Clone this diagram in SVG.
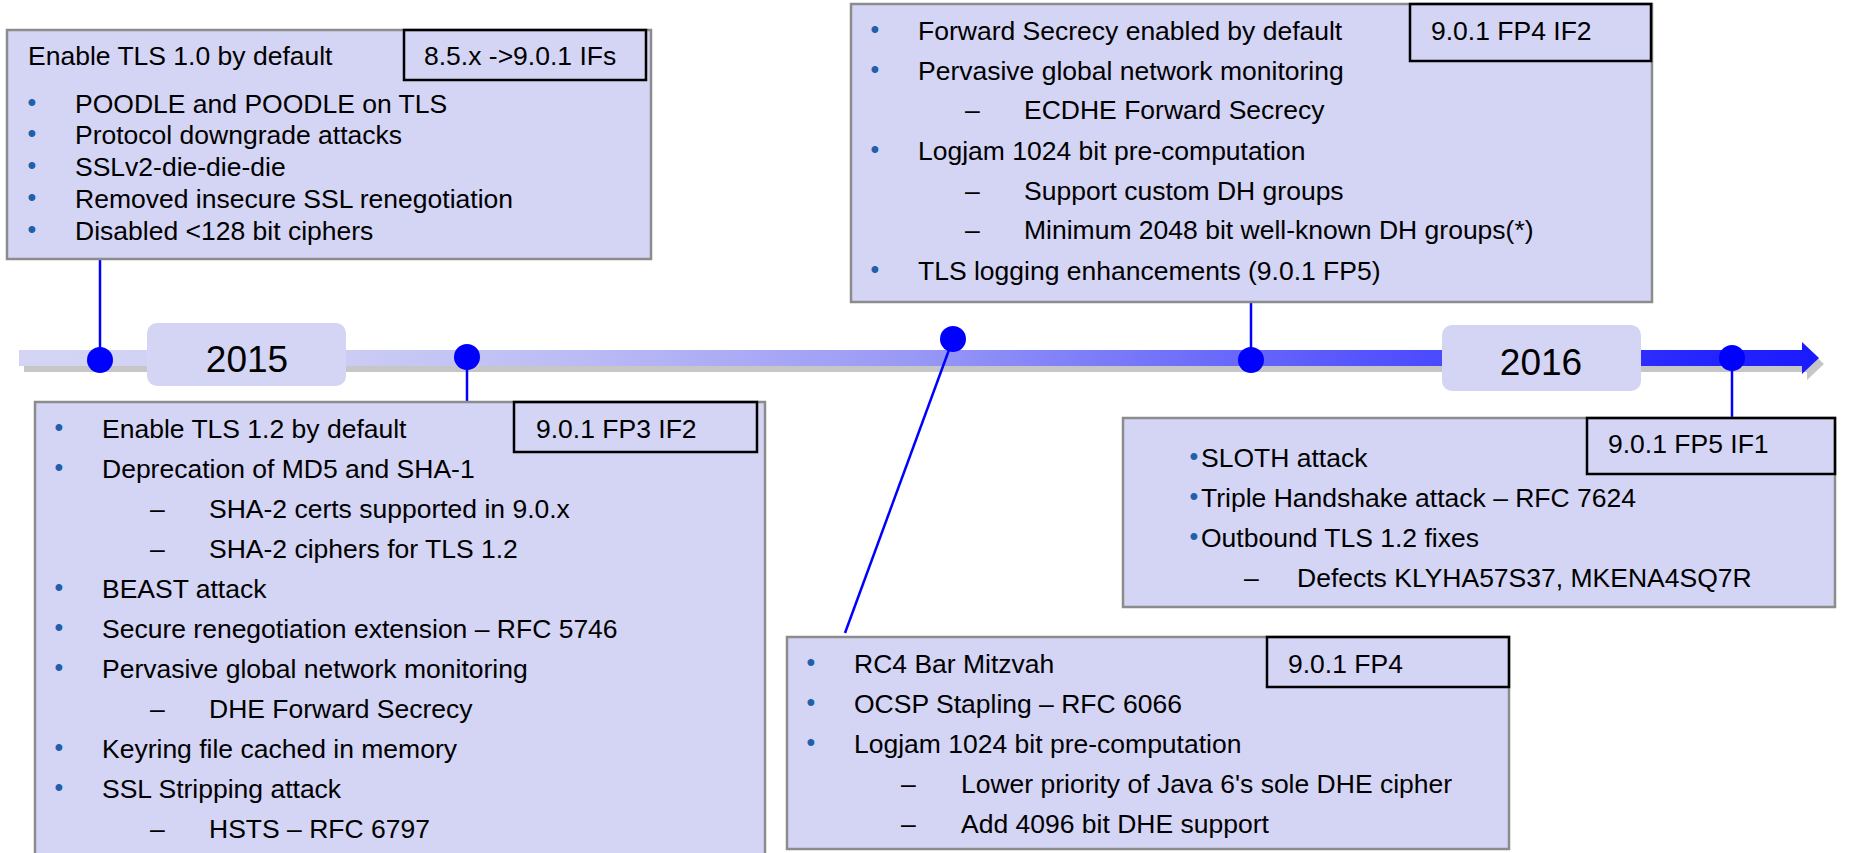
<svg xmlns="http://www.w3.org/2000/svg" width="1849" height="853" viewBox="0 0 1849 853">
<defs>
<linearGradient id="barGrad" gradientUnits="userSpaceOnUse" x1="19" y1="0" x2="1819" y2="0">
<stop offset="0" stop-color="#d4d4f4"/>
<stop offset="0.15" stop-color="#cfcff4"/>
<stop offset="0.3" stop-color="#bdbdf5"/>
<stop offset="0.49" stop-color="#9a9af6"/>
<stop offset="0.68" stop-color="#6666fb"/>
<stop offset="0.79" stop-color="#4a4aff"/>
<stop offset="0.93" stop-color="#2626ff"/>
<stop offset="1" stop-color="#1a1aff"/>
</linearGradient>
</defs>
<style>
text{font-family:"Liberation Sans",Arial,Helvetica,sans-serif;font-size:26.5px;fill:#000}
.box{fill:#d4d4f4;stroke:#8c8c8c;stroke-width:2.5}
.ver{fill:none;stroke:#000;stroke-width:2.5}
.year{fill:#d4d4f4;stroke:none}
.yt{font-size:37px;text-anchor:middle}
.b{fill:#2060a8;font-size:25px}
.conn{stroke:#0000ff;stroke-width:2.5;fill:none}
.dot{fill:#0000ff}
</style>
<rect width="1849" height="853" fill="#fff"/>

<g id="timeline">
<path d="M24,356 H1807 V348 L1824,364 L1807,380 V372 H24 Z" fill="#c6c6c6"/>
<path d="M19,350 H1802 V342 L1819,358 L1802,374 V366 H19 Z" fill="url(#barGrad)"/>
<g id="year2015"><rect class="year" x="147" y="323" width="199" height="63" rx="10"/><text class="yt" x="247" y="372">2015</text></g>
<g id="year2016"><rect class="year" x="1442" y="325" width="199" height="66" rx="10"/><text class="yt" x="1541" y="375">2016</text></g>
</g>

<g id="connectors">
<line class="conn" x1="100" y1="259" x2="100" y2="360"/>
<line class="conn" x1="467" y1="357" x2="467" y2="402"/>
<line class="conn" x1="953" y1="339" x2="845" y2="633"/>
<line class="conn" x1="1251" y1="302" x2="1251" y2="360"/>
<line class="conn" x1="1732" y1="358" x2="1732" y2="418"/>
<circle class="dot" cx="100" cy="360" r="13"/>
<circle class="dot" cx="467" cy="357" r="13"/>
<circle class="dot" cx="953" cy="339" r="13"/>
<circle class="dot" cx="1251" cy="360" r="13"/>
<circle class="dot" cx="1732" cy="358" r="13"/>
</g>

<g id="box1">
<rect class="box" x="7" y="30" width="644" height="229"/>
<rect class="ver" x="404" y="30" width="242" height="50"/>
<text x="424" y="65">8.5.x -&gt;9.0.1 IFs</text>
<text x="28" y="65">Enable TLS 1.0 by default</text>
<text class="b" x="27.5" y="111">•</text><text x="75" y="113">POODLE and POODLE on TLS</text>
<text class="b" x="27.5" y="142">•</text><text x="75" y="144">Protocol downgrade attacks</text>
<text class="b" x="27.5" y="174">•</text><text x="75" y="176">SSLv2-die-die-die</text>
<text class="b" x="27.5" y="206">•</text><text x="75" y="208">Removed insecure SSL renegotiation</text>
<text class="b" x="27.5" y="238">•</text><text x="75" y="240">Disabled &lt;128 bit ciphers</text>
</g>

<g id="box2">
<rect class="box" x="35" y="402" width="730" height="480"/>
<rect class="ver" x="514" y="402" width="243" height="50"/>
<text x="536" y="438">9.0.1 FP3 IF2</text>
<text class="b" x="54.5" y="436">•</text><text x="102" y="438">Enable TLS 1.2 by default</text>
<text class="b" x="54.5" y="476">•</text><text x="102" y="478">Deprecation of MD5 and SHA-1</text>
<text x="150" y="518">–</text><text x="209" y="518">SHA-2 certs supported in 9.0.x</text>
<text x="150" y="558">–</text><text x="209" y="558">SHA-2 ciphers for TLS 1.2</text>
<text class="b" x="54.5" y="596">•</text><text x="102" y="598">BEAST attack</text>
<text class="b" x="54.5" y="636">•</text><text x="102" y="638">Secure renegotiation extension – RFC 5746</text>
<text class="b" x="54.5" y="676">•</text><text x="102" y="678">Pervasive global network monitoring</text>
<text x="150" y="718">–</text><text x="209" y="718">DHE Forward Secrecy</text>
<text class="b" x="54.5" y="756">•</text><text x="102" y="758">Keyring file cached in memory</text>
<text class="b" x="54.5" y="796">•</text><text x="102" y="798">SSL Stripping attack</text>
<text x="150" y="838">–</text><text x="209" y="838">HSTS – RFC 6797</text>
</g>

<g id="box3">
<rect class="box" x="851" y="4" width="801" height="298"/>
<rect class="ver" x="1410" y="4" width="241" height="57"/>
<text x="1431" y="40">9.0.1 FP4 IF2</text>
<text class="b" x="870.5" y="38">•</text><text x="918" y="40">Forward Secrecy enabled by default</text>
<text class="b" x="870.5" y="78">•</text><text x="918" y="80">Pervasive global network monitoring</text>
<text x="965" y="119">–</text><text x="1024" y="119">ECDHE Forward Secrecy</text>
<text class="b" x="870.5" y="158">•</text><text x="918" y="160">Logjam 1024 bit pre-computation</text>
<text x="965" y="200">–</text><text x="1024" y="200">Support custom DH groups</text>
<text x="965" y="239">–</text><text x="1024" y="239">Minimum 2048 bit well-known DH groups(*)</text>
<text class="b" x="870.5" y="278">•</text><text x="918" y="280">TLS logging enhancements (9.0.1 FP5)</text>
</g>

<g id="box4">
<rect class="box" x="787" y="637" width="722" height="212"/>
<rect class="ver" x="1267" y="637" width="242" height="50"/>
<text x="1288" y="673">9.0.1 FP4</text>
<text class="b" x="806.5" y="671">•</text><text x="854" y="673">RC4 Bar Mitzvah</text>
<text class="b" x="806.5" y="711">•</text><text x="854" y="713">OCSP Stapling – RFC 6066</text>
<text class="b" x="806.5" y="751">•</text><text x="854" y="753">Logjam 1024 bit pre-computation</text>
<text x="901" y="793">–</text><text x="961" y="793">Lower priority of Java 6's sole DHE cipher</text>
<text x="901" y="833">–</text><text x="961" y="833">Add 4096 bit DHE support</text>
</g>

<g id="box5">
<rect class="box" x="1123" y="418" width="712" height="189"/>
<rect class="ver" x="1587" y="418" width="248" height="56"/>
<text x="1608" y="453">9.0.1 FP5 IF1</text>
<text class="b" x="1189.5" y="465">•</text><text x="1201" y="467">SLOTH attack</text>
<text class="b" x="1189.5" y="505">•</text><text x="1201" y="507">Triple Handshake attack – RFC 7624</text>
<text class="b" x="1189.5" y="545">•</text><text x="1201" y="547">Outbound TLS 1.2 fixes</text>
<text x="1244" y="587">–</text><text x="1297" y="587">Defects KLYHA57S37, MKENA4SQ7R</text>
</g>
</svg>
